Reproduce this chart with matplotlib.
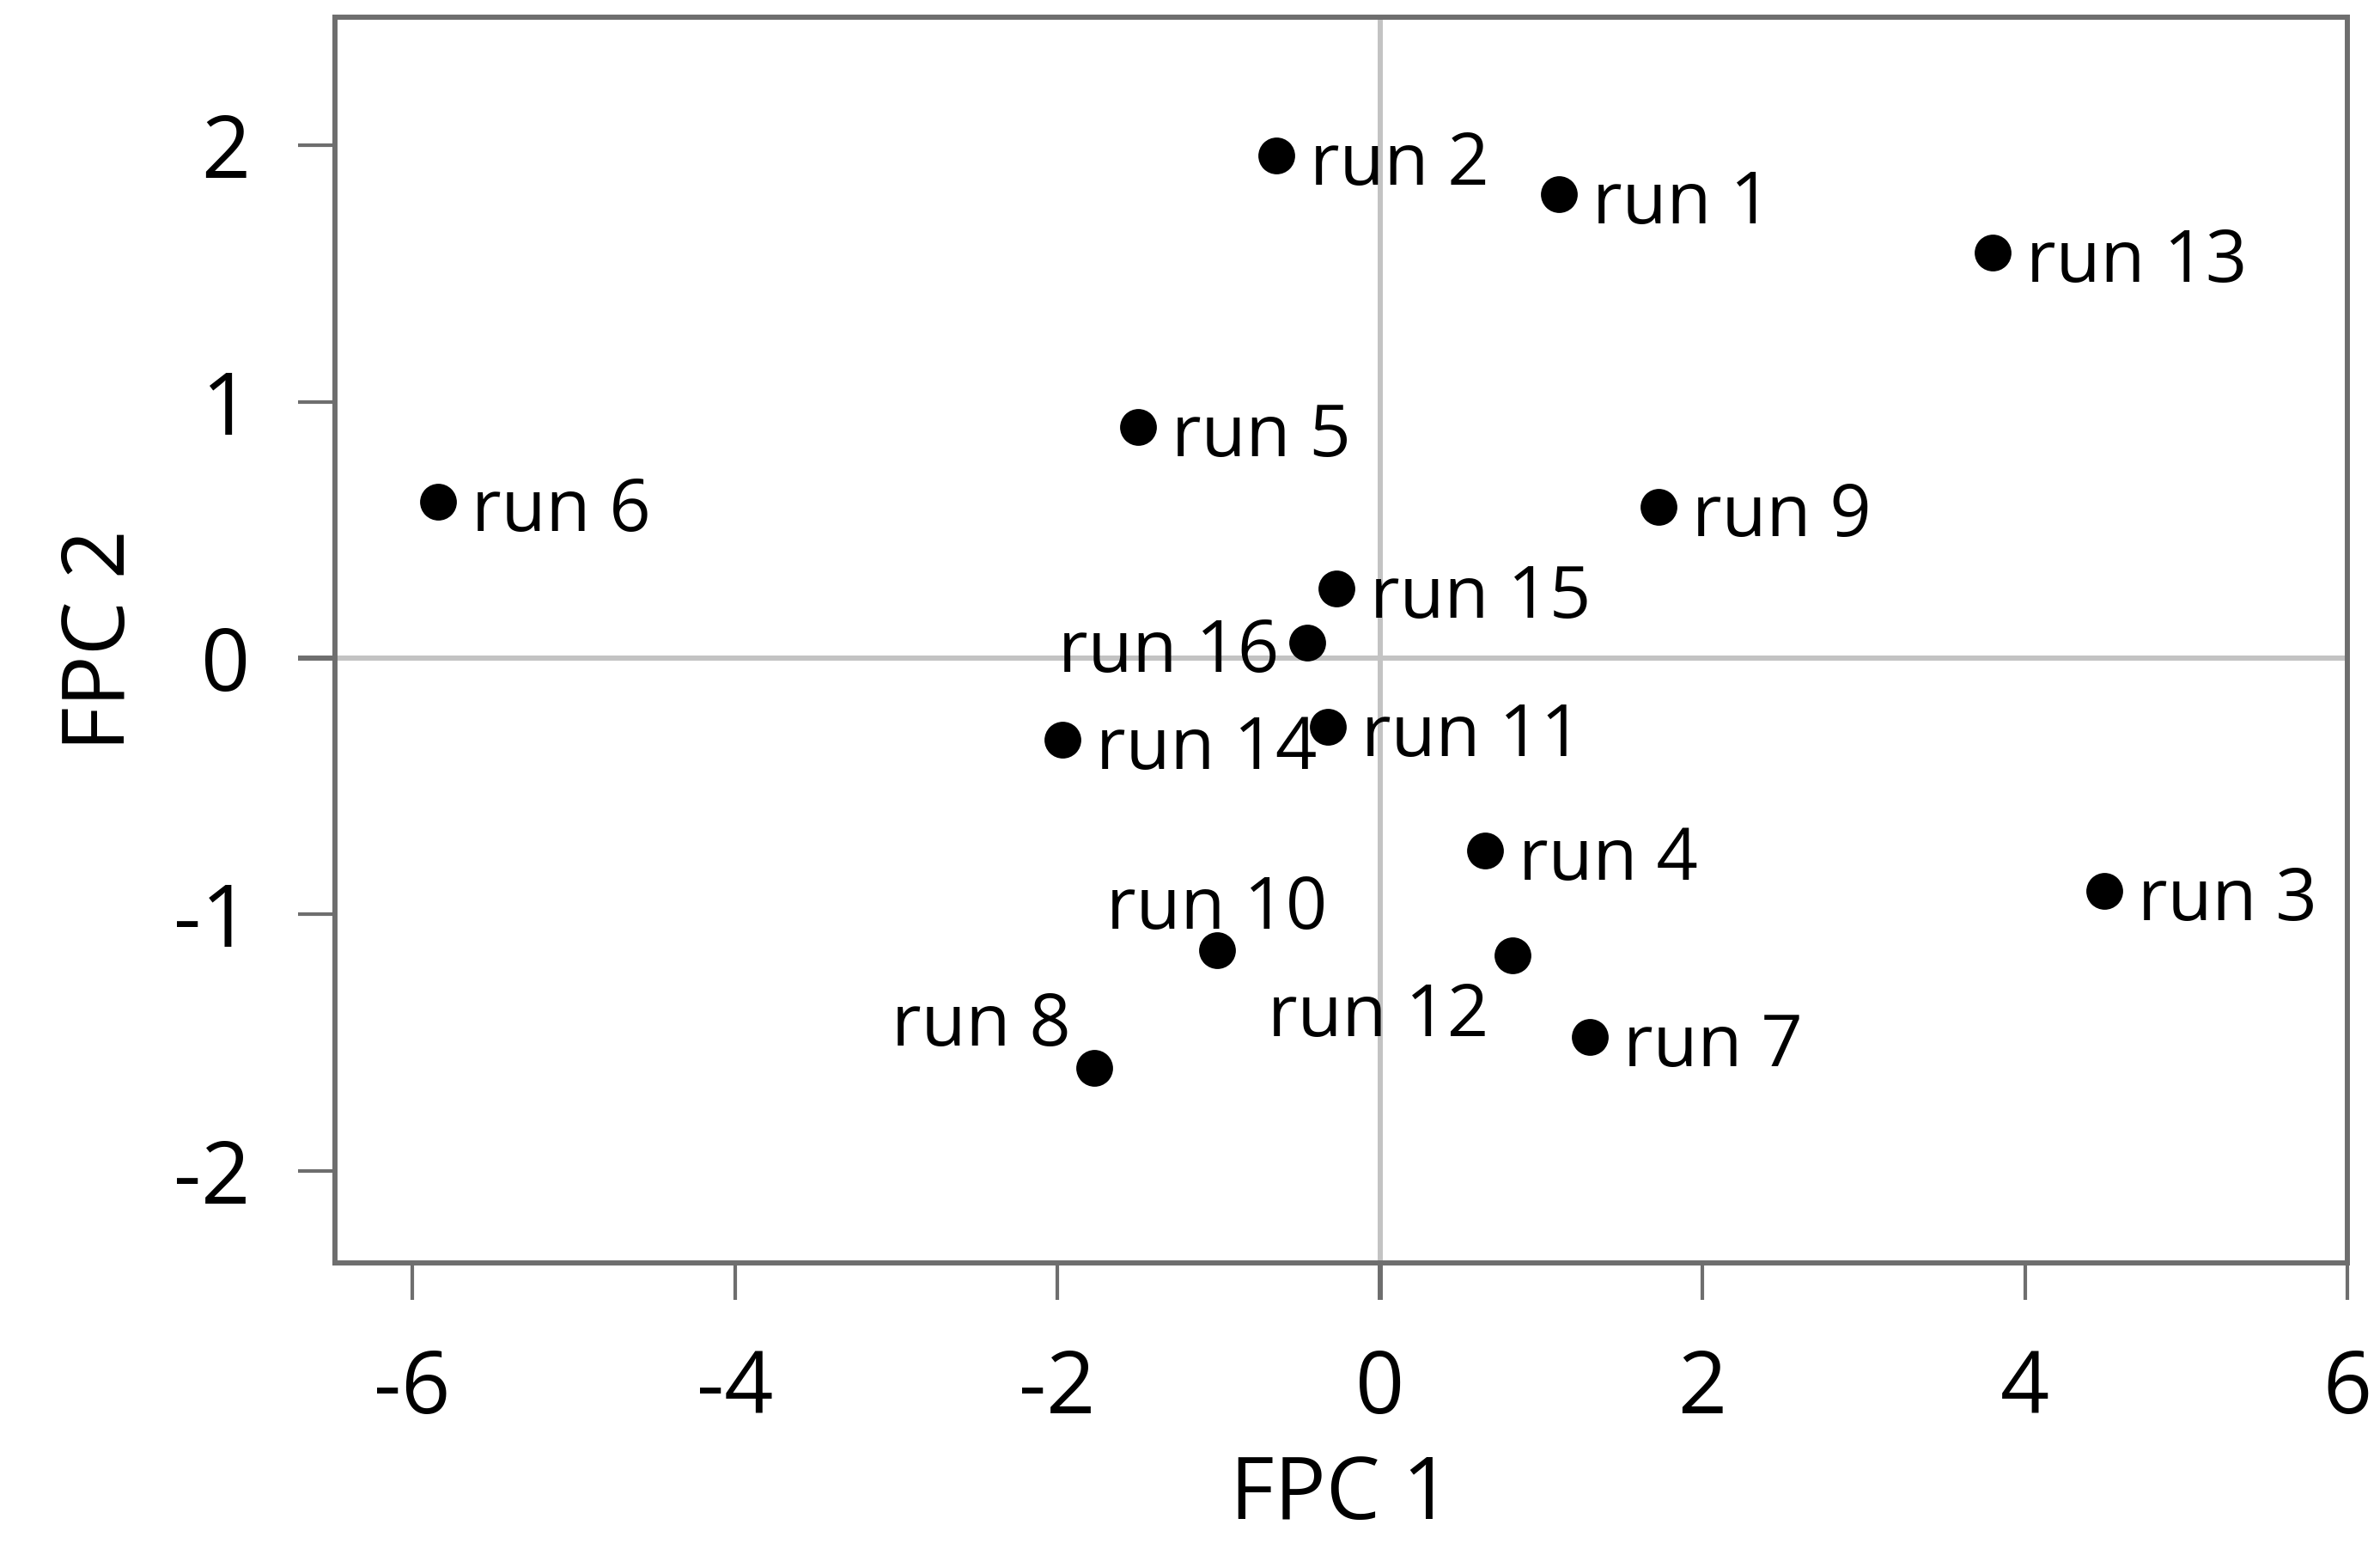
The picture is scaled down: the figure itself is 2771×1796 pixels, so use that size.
import matplotlib
matplotlib.use("Agg")
import matplotlib.pyplot as plt

plt.rcParams['font.family'] = ['Open Sans', 'DejaVu Sans']

labels = ["run 1", "run 2", "run 3", "run 4", "run 5", "run 6", "run 7", "run 8",
          "run 9", "run 10", "run 11", "run 12", "run 13", "run 14", "run 15", "run 16"]
fpc1 = [1.11, -0.64, 4.49, 0.65, -1.50, -5.84, 1.30, -1.77,
        1.73, -1.01, -0.32, 0.82, 3.80, -1.97, -0.27, -0.45]
fpc2 = [1.81, 1.96, -0.91, -0.75, 0.90, 0.61, -1.48, -1.60,
        0.59, -1.14, -0.27, -1.16, 1.58, -0.32, 0.27, 0.06]
# label placement: 'r' right, 'l' left, 'a' above, 'bl' below-left, 'al' above-left
placement = ["r", "r", "r", "r", "r", "r", "r", "al",
             "r", "a", "r", "bl", "r", "r", "r", "l"]

xticks = [-6, -4, -2, 0, 2, 4, 6]
yticks = [-2, -1, 0, 1, 2]

W, H = 2771, 1796
fig = plt.figure(figsize=(W / 100, H / 100), dpi=100)
ax = fig.add_axes([390 / W, 1 - 1470 / H, (2733 - 390) / W, (1470 - 20) / H])

spine_col = '#6e6e6e'
zero_col = '#c3c3c3'

ax.axhline(0, color=zero_col, lw=4.3, zorder=1)
ax.axvline(0, color=zero_col, lw=4.3, zorder=1)

ax.scatter(fpc1, fpc2, s=950, color='black', zorder=3, linewidths=0)

offsets = {
    "r": (39, -34, 'left'),
    "l": (-33, -34, 'right'),
    "a": (0, 25, 'center'),
    "bl": (-27, -94, 'right'),
    "al": (-28, 26, 'right'),
}
for x, y, lab, p in zip(fpc1, fpc2, labels, placement):
    dx, dy, ha = offsets[p]
    ax.annotate(lab, (x, y), xytext=(dx, dy), textcoords='offset pixels',
                ha=ha, va='baseline', fontsize=61, color='black', zorder=4)

ax.set_xlim(-6.48, 6.0)
ax.set_ylim(-2.36, 2.5)
ax.set_xticks(xticks)
ax.set_yticks(yticks)
ax.set_xticklabels([str(t) for t in xticks])
ax.set_yticklabels([str(t) for t in yticks])

for s in ax.spines.values():
    s.set_color(spine_col)
    s.set_linewidth(4.3)

ax.tick_params(axis='both', which='major', direction='out', length=31, width=3,
               color=spine_col, labelsize=72, labelcolor='black', pad=40)
ax.tick_params(axis='both', top=False, right=False)

fig.canvas.draw()
for t in ax.xaxis.get_major_ticks():
    if abs(t.get_loc()) < 1e-9:
        t.tick1line.set_color(zero_col)
        t.tick1line.set_markeredgewidth(4.3)
for t in ax.yaxis.get_major_ticks():
    if abs(t.get_loc()) < 1e-9:
        t.tick1line.set_color(zero_col)
        t.tick1line.set_markeredgewidth(4.3)

ax.set_xlabel("FPC 1", fontsize=72, labelpad=16)
ax.set_ylabel("FPC 2", fontsize=72, labelpad=24)

fig.savefig("out.png", dpi=100, facecolor='white')
